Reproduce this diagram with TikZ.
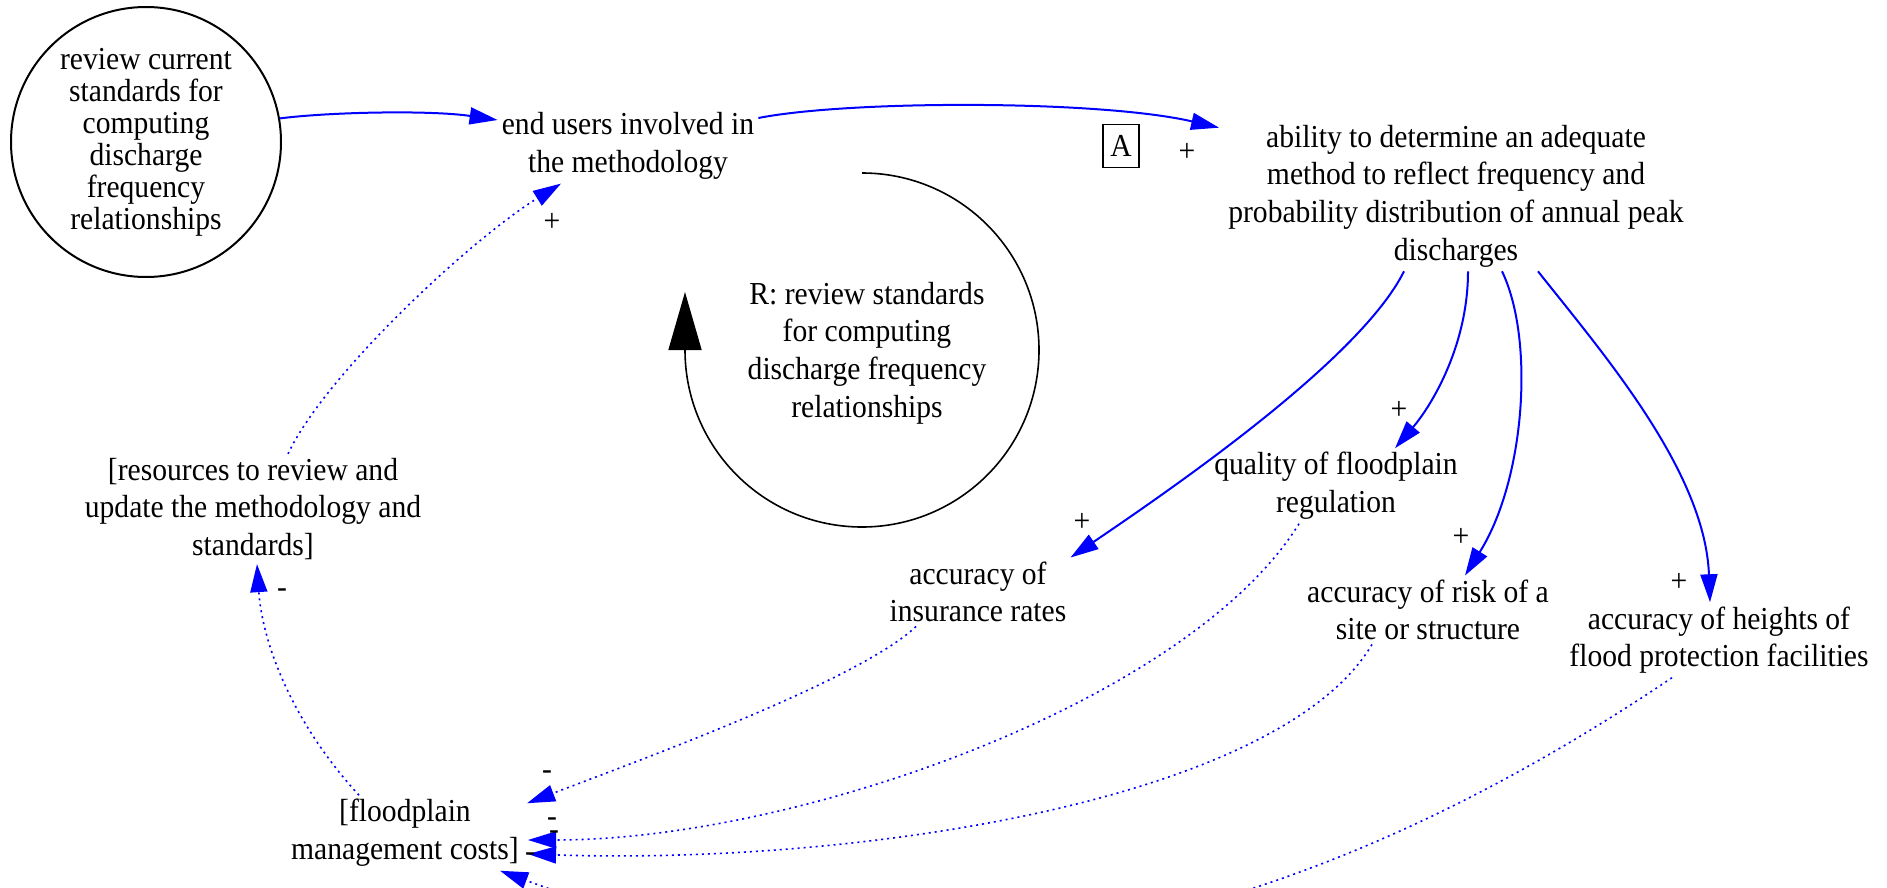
\documentclass[tikz,border=0pt]{standalone}
\usepackage{fontspec}
\setmainfont{Liberation Serif}[FakeStretch=0.925]
\usepackage{tikz}
\usetikzlibrary{arrows.meta}

\begin{document}
\begin{tikzpicture}[x=1pt, y=1pt,
  every node/.style={font=\fontsize{32}{37.7}\selectfont},
  var/.style={align=center, inner sep=4pt},
  sgn/.style={inner sep=0pt},
  causal/.style={blue, line width=2pt, -{Triangle[length=28pt,width=17pt]}},
  dotlink/.style={causal, line width=1.6pt, dash pattern=on 2pt off 4pt}]
\useasboundingbox (0,0) rectangle (1887,-888);
\clip (0,0) rectangle (1887,-888);

% variables
\node[draw, circle, line width=2pt, minimum size=270pt, inner sep=0pt, align=center, font=\fontsize{32}{32}\selectfont] (stdrev) at (146,-142) {review current\\standards for\\computing\\discharge\\frequency\\relationships};
\node[var] (users) at (628,-146) {end users involved in\\the methodology};
\node[draw, line width=1.6pt, minimum width=36pt, minimum height=43pt, inner sep=0pt] (mark) at (1121,-146) {A};
\node[var] (ability) at (1456,-196) {ability to determine an adequate\\method to reflect frequency and\\probability distribution of annual peak\\discharges};
\node[var] (loopR) at (867,-353) {R: review standards\\for computing\\discharge frequency\\relationships};
\node[var] (res) at (253,-509) {[resources to review and\\update the methodology and\\standards]};
\node[var] (costs) at (405,-833) {[floodplain\\management costs]};
\node[var] (ins) at (978,-592) {accuracy of\\insurance rates};
\node[var] (qual) at (1336,-486) {quality of floodplain\\regulation};
\node[var] (risk) at (1428,-610) {accuracy of risk of a\\site or structure};
\node[var] (heights) at (1719,-640) {accuracy of heights of\\flood protection facilities};

% loop
\draw[line width=1.6pt, -{Triangle[length=58pt,width=33pt]}] (862,-173) arc[start angle=90, end angle=-180, radius=177] -- ++(0,58);

% links
\draw[causal] (stdrev.10) .. controls (330,-112) and (430,-110) .. ([yshift=26pt]users.west);
\draw[causal] ([yshift=28pt]users.east) .. controls (850,-100) and (1100,-100) .. ([shift={(-5pt,-7pt)}]ability.north west);
\draw[dotlink] ([xshift=35pt]res.north) .. controls (325,-375) and (470,-240) .. ([xshift=-67pt]users.south);
\draw[dotlink] ([xshift=-46pt]costs.north) .. controls (290,-720) and (262,-640) .. ([xshift=4pt]res.south);
\draw[causal] ([xshift=-52pt]ability.south) .. controls (1360,-360) and (1170,-490) .. (ins.north east);
\draw[causal] ([xshift=12pt]ability.south) .. controls (1468,-345) and (1432,-405) .. ([xshift=59pt]qual.north);
\draw[causal] ([xshift=46pt]ability.south) .. controls (1535,-340) and (1525,-480) .. ([xshift=37pt]risk.north);
\draw[causal] ([xshift=82pt]ability.south) .. controls (1600,-350) and (1705,-470) .. ([xshift=-9pt]heights.north);
\draw[dotlink] ([xshift=-62pt]ins.south) .. controls (860,-680) and (640,-760) .. ([shift={(4pt,-8pt)}]costs.north east);
\draw[dotlink] ([xshift=-37pt]qual.south) .. controls (1190,-700) and (800,-840) .. ([shift={(5pt,-7pt)}]costs.east);
\draw[dotlink] ([xshift=-56pt]risk.south) .. controls (1280,-800) and (860,-865) .. ([shift={(5pt,-21pt)}]costs.east);
\draw[dotlink] ([xshift=-47pt]heights.south) .. controls (1257,-957) and (876,-1010) .. ([xshift=-23pt]costs.south east);

% polarities
\node[sgn] (sgnUA) at (1187,-152) {+};
\node[sgn] (sgnRU) at (552,-222) {+};
\node[sgn] (sgnAI) at (1082,-522) {+};
\node[sgn] (sgnAQ) at (1399,-410) {+};
\node[sgn] (sgnAR) at (1461,-537) {+};
\node[sgn] (sgnAH) at (1679,-582) {+};
\node[sgn] (sgnCR) at (282,-593) {-};
\node[sgn] (sgnIC) at (547,-775) {-};
\node[sgn] (sgnQC) at (552,-822) {-};
\node[sgn] (sgnKC) at (554,-835) {-};
\node[sgn] (sgnHC) at (530,-857) {-};
\end{tikzpicture}
\end{document}
